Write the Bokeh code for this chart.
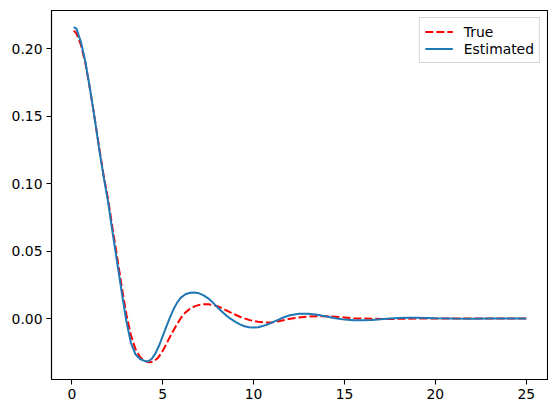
from bokeh.plotting import figure
from bokeh.models import ColumnDataSource, Range1d, FixedTicker, PrintfTickFormatter
from bokeh.embed import file_html
from bokeh.resources import INLINE

# ---- data ----
t_est = [0.1, 0.25, 0.5, 0.75, 1.0, 1.25, 1.5, 1.75, 2.0, 2.25, 2.5, 2.75, 3.0, 3.25, 3.5,
         3.75, 4.0, 4.2, 4.4, 4.6, 4.8, 5.0, 5.2, 5.4, 5.6, 5.8, 6.0, 6.25, 6.5, 6.75, 7.0,
         7.25, 7.5, 7.75, 8.0, 8.25, 8.5, 8.75, 9.0, 9.25, 9.5, 9.75, 10.0, 10.25, 10.5,
         10.75, 11.0, 11.25, 11.5, 11.75, 12.0, 12.5, 13.0, 13.5, 14.0, 14.5, 15.0, 15.5,
         16.0, 16.5, 17.0, 17.5, 18.0, 18.5, 19.0, 19.5, 20.0, 21.0, 22.0, 23.0, 24.0, 25.0]
v_est = [0.2160, 0.2150, 0.2050, 0.1900, 0.1700, 0.1490, 0.1260, 0.1050, 0.0860, 0.0630,
         0.0410, 0.0190, -0.0020, -0.0180, -0.0265, -0.0300, -0.0314, -0.0318, -0.0298,
         -0.0258, -0.0200, -0.0130, -0.0060, 0.0008, 0.0070, 0.0120, 0.0155, 0.0180,
         0.0191, 0.0193, 0.0187, 0.0172, 0.0150, 0.0120, 0.0085, 0.0052, 0.0022, -0.0003,
         -0.0025, -0.0043, -0.0057, -0.0065, -0.0067, -0.0064, -0.0056, -0.0044, -0.0030,
         -0.0015, 0.0000, 0.0013, 0.0024, 0.0035, 0.0036, 0.0028, 0.0015, 0.0002, -0.0008,
         -0.0012, -0.0013, -0.0010, -0.0005, 0.0000, 0.0004, 0.0006, 0.0006, 0.0004,
         0.0002, 0.0000, -0.0001, 0.0000, 0.0000, 0.0000]

t_true = [0.1, 0.25, 0.5, 0.75, 1.0, 1.25, 1.5, 1.75, 2.0, 2.25, 2.5, 2.75, 3.0, 3.25, 3.5,
          3.75, 4.0, 4.25, 4.5, 4.75, 5.0, 5.25, 5.5, 5.75, 6.0, 6.25, 6.5, 6.75, 7.0, 7.25,
          7.5, 7.75, 8.0, 8.25, 8.5, 8.75, 9.0, 9.25, 9.5, 9.75, 10.0, 10.25, 10.5, 10.75,
          11.0, 11.25, 11.5, 12.0, 12.5, 13.0, 13.5, 14.0, 14.5, 15.0, 15.5, 16.0, 16.5,
          17.0, 17.5, 18.0, 19.0, 20.0, 21.0, 22.0, 23.0, 24.0, 25.0]
v_true = [0.2135, 0.2115, 0.2030, 0.1890, 0.1700, 0.1490, 0.1270, 0.1060, 0.0880, 0.0660,
          0.0450, 0.0230, 0.0030, -0.0125, -0.0225, -0.0285, -0.0315, -0.0325, -0.0318,
          -0.0290, -0.0240, -0.0175, -0.0110, -0.0050, 0.0005, 0.0045, 0.0073, 0.0090,
          0.0101, 0.0106, 0.0106, 0.0101, 0.0092, 0.0078, 0.0061, 0.0044, 0.0028, 0.0013,
          0.0001, -0.0010, -0.0018, -0.0024, -0.0028, -0.0030, -0.0029, -0.0024, -0.0016,
          -0.0002, 0.0008, 0.0014, 0.0017, 0.0017, 0.0013, 0.0008, 0.0003, 0.0000, -0.0002,
          -0.0003, -0.0003, -0.0002, 0.0000, 0.0000, 0.0000, 0.0000, 0.0000, 0.0000, 0.0000]

x_ticks = [0, 5, 10, 15, 20, 25]
y_ticks = [0.00, 0.05, 0.10, 0.15, 0.20]

FONT = "DejaVu Sans"

p = figure(output_backend="svg", toolbar_location=None,
           frame_width=496, frame_height=369,
           x_range=Range1d(-1.12, 26.17), y_range=Range1d(-0.0452, 0.2284),
           min_border_left=51, min_border_top=10, min_border_right=1, min_border_bottom=26)

p.background_fill_color = "white"
p.border_fill_color = "white"
p.outline_line_color = "black"
p.outline_line_width = 1.1
p.grid.visible = False

src_true = ColumnDataSource(dict(t=t_true, v=v_true))
src_est = ColumnDataSource(dict(t=t_est, v=v_est))

p.line("t", "v", source=src_true, line_color="red", line_width=2,
       line_dash="8 3", legend_label="True")
p.line("t", "v", source=src_est, line_color="#1f77b4", line_width=2,
       legend_label="Estimated")

for ax in (p.xaxis[0], p.yaxis[0]):
    ax.axis_line_color = "black"
    ax.axis_line_width = 1.1
    ax.major_tick_in = 0
    ax.major_tick_out = 5
    ax.major_tick_line_color = "black"
    ax.major_tick_line_width = 1.1
    ax.minor_tick_line_color = None
    ax.major_label_text_font = FONT
    ax.major_label_text_font_size = "13.9px"
    ax.major_label_text_color = "black"
    ax.major_label_standoff = 4

p.xaxis[0].ticker = FixedTicker(ticks=x_ticks)
p.yaxis[0].ticker = FixedTicker(ticks=y_ticks)
p.yaxis[0].formatter = PrintfTickFormatter(format="%.2f")

lg = p.legend[0]
lg.location = "top_right"
lg.margin = 7
lg.padding = 5
lg.spacing = 0
lg.glyph_width = 28
lg.glyph_height = 17
lg.label_height = 17
lg.label_standoff = 11
lg.label_text_font = FONT
lg.label_text_font_size = "13.9px"
lg.label_text_color = "black"
lg.border_line_color = "#cccccc"
lg.border_line_alpha = 0.8
lg.background_fill_color = "white"
lg.background_fill_alpha = 0.8

open("out.html", "w").write(file_html(p, INLINE))
